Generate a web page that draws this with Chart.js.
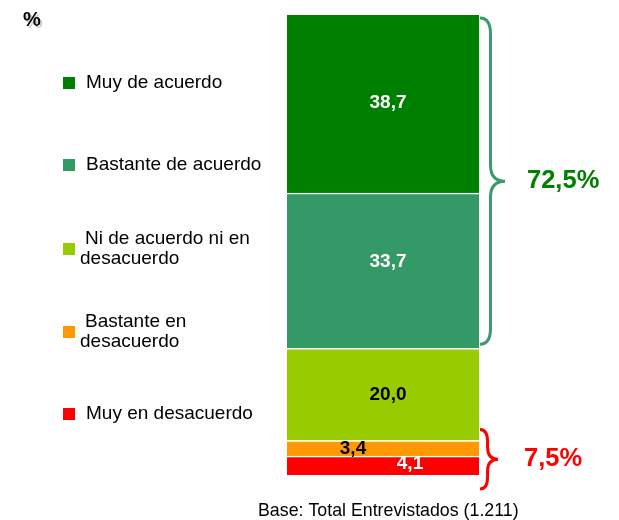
<!DOCTYPE HTML>
<html>

<head>
  <title>Grado de acuerdo</title>
  <meta content="width=device-width, initial-scale=1.0" name="viewport">
  <script src="https://cdn.jsdelivr.net/npm/chart.js"></script>
  <style>
    body { margin: 0; background: #ffffff; }
    .chart-container { position: relative; width: 619px; height: 520px; }
  </style>
</head>

<body>
  <div class="chart-container">
    <canvas id="barChart"></canvas>
  </div>

  <script type="text/javascript">
    // data, in legend order (top of the bar first)
    var categories = ['Muy de acuerdo', 'Bastante de acuerdo', ['Ni de acuerdo ni en', 'desacuerdo'], ['Bastante en', 'desacuerdo'], 'Muy en desacuerdo'];
    var values = [38.7, 33.7, 20.0, 3.4, 4.1];
    var valueLabels = ['38,7', '33,7', '20,0', '3,4', '4,1'];
    var groupLabels = ['72,5%', '7,5%'];
    var groupMembers = [[0, 1], [3, 4]];
    var unitLabel = '%';
    var baseNote = 'Base: Total Entrevistados (1.211)';

    // styles
    var FONT = '"Liberation Sans", Arial, sans-serif';
    var colors = ['#008000', '#339966', '#99cc00', '#ff9900', '#ff0000'];
    var labelColors = ['#ffffff', '#ffffff', '#000000', '#000000', '#ffffff'];
    var labelShift = [[5, -1], [5, -9], [5, 0], [-30, 0], [27, -2]];
    var legendY = [83, 165, 249, 332, 414];
    var braceColors = ['#3a9a6e', '#ff0000'];
    var groupTextColors = ['#008000', '#ff0000'];
    var braceAdjust = [[3, -4], [-11, 14]];   // top / bottom pixel tweak
    var braceDepth = [25, 18];
    var braceCurl = [16, 12];
    var groupTextGap = [22, 26];

    var total = 0;
    for (let i = 0; i < values.length; i++) total += values[i];

    // stack from the bottom: last category first
    var datasets = [];
    for (let k = values.length - 1; k >= 0; k--) {
      datasets.push({
        label: Array.isArray(categories[k]) ? categories[k].join(' ') : categories[k],
        cat: k,
        data: [values[k]],
        backgroundColor: colors[k],
        borderColor: '#ffffff',
        borderWidth: { top: k == 0 ? 0 : 1.5, bottom: 0, left: 0, right: 0 },
        borderSkipped: false,
        barPercentage: 1.0,
        categoryPercentage: 1.0,
      });
    }

    var extrasPlugin = {
      id: 'extras',
      afterDatasetsDraw: function (chart) {
        var ctx = chart.ctx;
        var area = chart.chartArea;
        ctx.save();

        // value labels in the segments
        var elems = [];
        chart.data.datasets.forEach(function (ds, i) {
          var el = chart.getDatasetMeta(i).data[0];
          var k = ds.cat;
          elems[k] = el;
          ctx.font = 'bold 19px ' + FONT;
          ctx.fillStyle = labelColors[k];
          ctx.textAlign = 'center';
          ctx.textBaseline = 'middle';
          ctx.fillText(valueLabels[k], el.x + labelShift[k][0], (el.y + el.base) / 2 + labelShift[k][1]);
        });

        // legend on the left
        ctx.textAlign = 'left';
        ctx.textBaseline = 'middle';
        ctx.font = '19px ' + FONT;
        for (let k = 0; k < categories.length; k++) {
          ctx.fillStyle = colors[k];
          ctx.fillRect(63, legendY[k] - 6, 12, 12);
          ctx.fillStyle = '#000000';
          if (Array.isArray(categories[k])) {
            ctx.fillText(categories[k][0], 85, legendY[k] - 10);
            ctx.fillText(categories[k][1], 80, legendY[k] + 10);
          } else {
            ctx.fillText(categories[k], 86, legendY[k]);
          }
        }

        // braces and group totals
        for (let g = 0; g < groupMembers.length; g++) {
          var top = Infinity, bottom = -Infinity;
          groupMembers[g].forEach(function (k) {
            top = Math.min(top, elems[k].y);
            bottom = Math.max(bottom, elems[k].base);
          });
          top += braceAdjust[g][0];
          bottom += braceAdjust[g][1];
          var mid = (top + bottom) / 2;
          var x0 = area.right + 1;
          var x1 = x0 + braceDepth[g] * 0.42;
          var tip = x0 + braceDepth[g];
          var r = braceCurl[g];
          ctx.beginPath();
          ctx.moveTo(x0, top);
          ctx.quadraticCurveTo(x1, top, x1, top + r);
          ctx.lineTo(x1, mid - r);
          ctx.quadraticCurveTo(x1, mid, tip, mid);
          ctx.quadraticCurveTo(x1, mid, x1, mid + r);
          ctx.lineTo(x1, bottom - r);
          ctx.quadraticCurveTo(x1, bottom, x0, bottom);
          ctx.lineWidth = 3;
          ctx.strokeStyle = braceColors[g];
          ctx.stroke();

          ctx.font = 'bold 25.5px ' + FONT;
          ctx.fillStyle = groupTextColors[g];
          ctx.textAlign = 'left';
          ctx.textBaseline = 'middle';
          ctx.fillText(groupLabels[g], tip + groupTextGap[g], mid);
        }

        // unit mark and base note
        ctx.textBaseline = 'alphabetic';
        ctx.font = 'bold 20px ' + FONT;
        ctx.fillStyle = '#d0d0d0';
        ctx.fillText(unitLabel, 25, 28);
        ctx.fillStyle = '#000000';
        ctx.fillText(unitLabel, 23, 26);

        ctx.font = '17.8px ' + FONT;
        ctx.fillText(baseNote, 258, 516);
        ctx.restore();
      }
    };

    var chartBar = new Chart(document.getElementById('barChart'), {
      type: 'bar',
      data: {
        labels: [''],
        datasets: datasets,
      },
      options: {
        responsive: true,
        maintainAspectRatio: false,
        animation: false,
        layout: { padding: { left: 287, right: 140, top: 15, bottom: 45 } },
        scales: {
          x: { stacked: true, display: false },
          y: { stacked: true, display: false, min: 0, max: total },
        },
        plugins: {
          legend: { display: false },
          tooltip: { enabled: false },
        },
      },
      plugins: [extrasPlugin],
    });
  </script>
</body>

</html>
